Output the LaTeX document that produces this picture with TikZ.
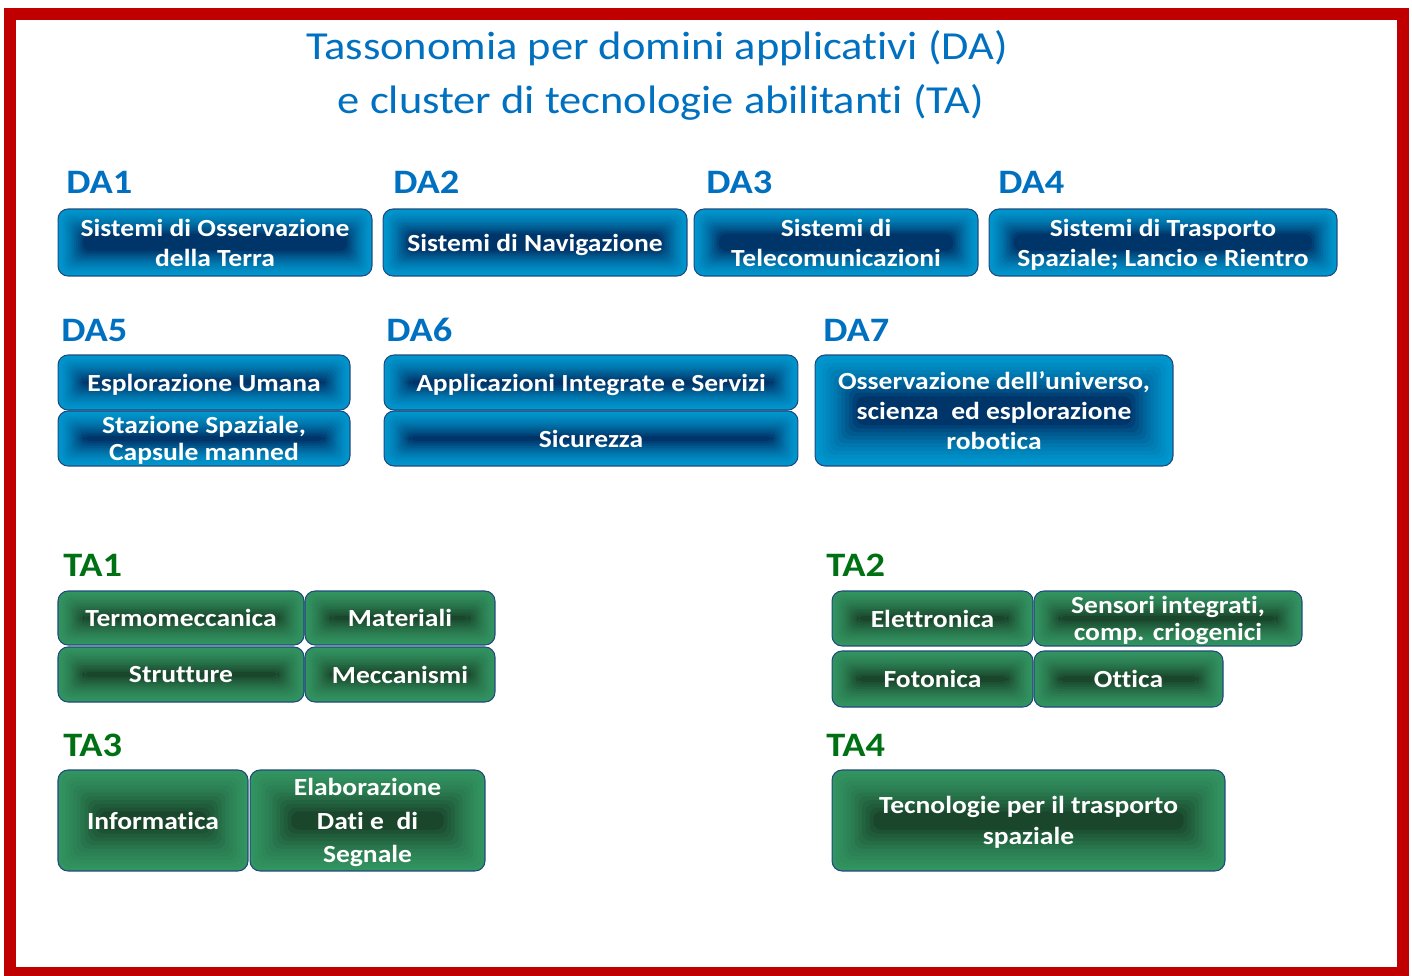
\documentclass[tikz,border=0pt]{standalone}
\usepackage{fontspec}
\setmainfont{Carlito}[FakeStretch=1.12,Ligatures=NoCommon]
\usepackage{tikz}

\definecolor{titleblue}{RGB}{0,112,192}
\definecolor{tagreen}{RGB}{0,112,20}
\definecolor{framered}{RGB}{192,0,0}
\definecolor{dalight}{RGB}{0,150,206}
\definecolor{dadark}{RGB}{0,44,96}
\definecolor{talight}{RGB}{50,148,96}
\definecolor{tadark}{RGB}{24,64,40}
\definecolor{boxedge}{RGB}{31,73,125}

\tikzset{
  bevellight/.store in=\bevellight, bevellight=dalight,
  beveldark/.store in=\beveldark, beveldark=dadark,
  bevelstep/.store in=\bevelstep, bevelstep=0.045cm}

\begin{document}
\begin{tikzpicture}[x=0.02cm,y=-0.02cm,
  dabox/.style={draw=boxedge,line width=0.6pt,rounded corners=0.2cm,
    path picture={
      \foreach \k [evaluate=\k as \pct using int(\k*\k*0.4+\k*4)] in {0,...,11}
        \fill[\beveldark!\pct!\bevellight,rounded corners=0.16cm]
          ([shift={(\k*\bevelstep,\k*\bevelstep)}]path picture bounding box.south west) rectangle
          ([shift={(-\k*\bevelstep,-\k*\bevelstep)}]path picture bounding box.north east);},
    text=white,font=\bfseries\fontsize{14}{17}\selectfont,align=center,inner sep=0pt,text depth=0pt},
  tabox/.style={dabox,bevellight=talight,beveldark=tadark},
  tall/.style={bevelstep=0.075cm},
  dalabel/.style={anchor=base west,text=titleblue,font=\bfseries\fontsize{19.5}{22}\selectfont,inner sep=0pt},
  talabel/.style={dalabel,text=tagreen},
  titletext/.style={anchor=base,text=titleblue,font=\fontsize{22.6}{26}\selectfont,inner sep=0pt}]

\useasboundingbox (0,0) rectangle (1412,976);

% red frame
\draw[framered,line width=0.24cm] (10,14) rectangle (1403,973);

% title
\node[titletext] (title1) at (657,60) {Tassonomia per domini applicativi (DA)};
\node[titletext] (title2) at (661,114) {e cluster di tecnologie abilitanti (TA)};

% domini applicativi
\node[dalabel] (da1lab) at (66,194) {DA1};
\node[dalabel] (da2lab) at (393,194) {DA2};
\node[dalabel] (da3lab) at (706,194) {DA3};
\node[dalabel] (da4lab) at (998,194) {DA4};

\node[dabox,minimum width=6.28cm,minimum height=1.34cm] (da1) at (215,242.5) {Sistemi di Osservazione\\della Terra};
\node[dabox,minimum width=6.08cm,minimum height=1.34cm] (da2) at (535,242.5) {Sistemi di Navigazione};
\node[dabox,minimum width=5.68cm,minimum height=1.34cm] (da3) at (836,242.5) {Sistemi di\\Telecomunicazioni};
\node[dabox,minimum width=6.96cm,minimum height=1.34cm] (da4) at (1163,242.5) {Sistemi di Trasporto\\Spaziale; Lancio e Rientro};

\node[dalabel] (da5lab) at (61,341) {DA5};
\node[dalabel] (da6lab) at (386,341) {DA6};
\node[dalabel] (da7lab) at (823,341) {DA7};

\node[dabox,minimum width=5.84cm,minimum height=1.10cm] (da5a) at (204,382.5) {Esplorazione Umana};
\node[dabox,minimum width=5.84cm,minimum height=1.10cm,font=\bfseries\fontsize{14}{15.5}\selectfont] (da5b) at (204,438.5) {Stazione Spaziale,\\Capsule manned};
\node[dabox,minimum width=8.28cm,minimum height=1.10cm] (da6a) at (591,382.5) {Applicazioni Integrate e Servizi};
\node[dabox,minimum width=8.28cm,minimum height=1.10cm] (da6b) at (591,438.5) {Sicurezza};
\node[dabox,tall,minimum width=7.16cm,minimum height=2.22cm] (da7) at (994,410.5) {Osservazione dell’universo,\\scienza \ ed esplorazione\\robotica};

% tecnologie abilitanti
\node[talabel] (ta1lab) at (63,576) {TA1};
\node[talabel] (ta2lab) at (826,576) {TA2};

\node[tabox,minimum width=4.92cm,minimum height=1.08cm] (ta1a) at (181,618) {Termomeccanica};
\node[tabox,minimum width=3.80cm,minimum height=1.08cm] (ta1b) at (400,618) {Materiali};
\node[tabox,minimum width=4.92cm,minimum height=1.10cm] (ta1c) at (181,674.5) {Strutture};
\node[tabox,minimum width=3.80cm,minimum height=1.10cm] (ta1d) at (400,674.5) {Meccanismi};

\node[tabox,minimum width=4.02cm,minimum height=1.10cm] (ta2a) at (932.5,618.5) {Elettronica};
\node[tabox,minimum width=5.36cm,minimum height=1.10cm,font=\bfseries\fontsize{14}{15}\selectfont] (ta2b) at (1168,618.5) {Sensori integrati,\\comp. criogenici};
\node[tabox,minimum width=4.02cm,minimum height=1.12cm] (ta2c) at (932.5,679) {Fotonica};
\node[tabox,minimum width=3.78cm,minimum height=1.12cm] (ta2d) at (1128.5,679) {Ottica};

\node[talabel] (ta3lab) at (63,756) {TA3};
\node[talabel] (ta4lab) at (826,756) {TA4};

\node[tabox,tall,minimum width=3.80cm,minimum height=2.02cm] (ta3a) at (153,820.5) {Informatica};
\node[tabox,tall,minimum width=4.70cm,minimum height=2.02cm,font=\bfseries\fontsize{14}{19}\selectfont] (ta3b) at (367.5,820.5) {Elaborazione\\Dati e \ di\\Segnale};
\node[tabox,tall,minimum width=7.86cm,minimum height=2.02cm,font=\bfseries\fontsize{14}{18}\selectfont] (ta4) at (1028.5,820.5) {Tecnologie per il trasporto\\spaziale};

\end{tikzpicture}
\end{document}
